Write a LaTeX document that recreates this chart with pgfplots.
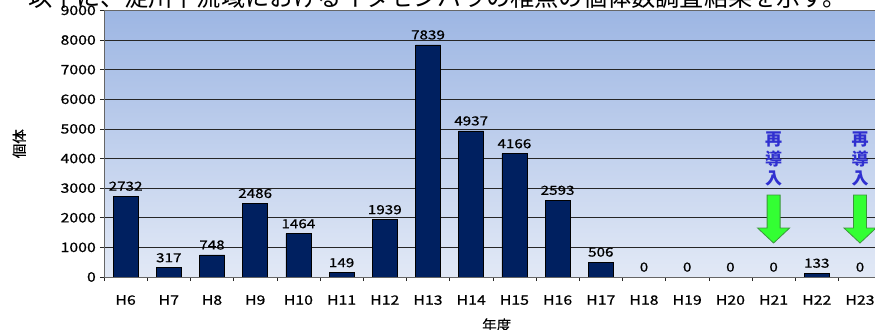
\documentclass[border=0pt]{standalone}
\usepackage{fontspec}
\setmainfont{Noto Sans CJK JP}
\newfontfamily\numfont[FakeStretch=1.22, FakeBold=0.6]{Noto Sans CJK JP}
\newfontfamily\lblfont[FakeBold=0.4]{Noto Sans CJK JP}
\usepackage{pgfplots}
\pgfplotsset{compat=1.18}
\definecolor{bgtop}{RGB}{157,182,227}
\definecolor{bgbot}{RGB}{226,233,246}
\definecolor{barnavy}{RGB}{0,32,96}
\definecolor{annblue}{RGB}{48,48,208}
\definecolor{arrgreen}{RGB}{51,255,51}
\definecolor{arredge}{RGB}{60,150,60}
\begin{document}
\begin{tikzpicture}
\useasboundingbox (0,0) rectangle (875bp,330bp);
\begin{scope}
\clip (0,0) rectangle (875bp,330bp);
\node[anchor=base west, inner sep=0pt, font=\fontsize{24.2bp}{26bp}\selectfont] at (28bp,323bp) {以下に、淀川下流域におけるイタセンパラの稚魚の個体数調査結果を示す。};
\end{scope}
\begin{axis}[
  at={(104bp,53bp)}, anchor=south west,
  scale only axis, width=777.6bp, height=266.6bp,
  xmin=-0.5, xmax=17.5, ymin=0, ymax=9000,
  ytick={0,1000,...,9000},
  xtick={0,...,17},
  xticklabels={H6,H7,H8,H9,H10,H11,H12,H13,H14,H15,H16,H17,H18,H19,H20,H21,H22,H23},
  minor xtick={-0.5,0.5,...,17.5},
  major x tick style={draw=none},
  minor tick length=4bp,
  major tick length=4bp,
  xtick pos=bottom, ytick pos=left,
  ytick align=outside, xtick align=inside,
  ymajorgrids, major grid style={black!85, line width=0.6bp},
  axis line style={black!60, line width=0.6bp},
  tick style={black!85, line width=0.6bp},
  axis background/.style={top color=bgtop, bottom color=bgbot},
  /pgf/number format/assume math mode=true,
  /pgf/number format/set thousands separator={},
  yticklabel style={font=\numfont\fontsize{13bp}{14bp}\selectfont, anchor=east, inner sep=0pt, xshift=-4bp},
  xticklabel style={font=\numfont\fontsize{13bp}{14bp}\selectfont, anchor=north, inner sep=0pt, yshift=-14bp},
  xlabel={年度},
  xlabel style={at={(axis description cs:0.505,0)}, anchor=center, yshift=-48bp, font=\lblfont\fontsize{14.5bp}{16bp}\selectfont},
  ylabel={個体},
  ylabel style={at={(axis description cs:-0.109,0.5)}, anchor=center, font=\lblfont\fontsize{14.5bp}{16bp}\selectfont},
  ybar, bar width=25bp,
  nodes near coords,
  every node near coord/.append style={font=\numfont\fontsize{12.5bp}{14bp}\selectfont, anchor=south, inner sep=0pt, yshift=5bp},
]
\addplot[fill=barnavy, draw=black, line width=0.5bp] coordinates {
(0,2732) (1,317) (2,748) (3,2486) (4,1464) (5,149) (6,1939) (7,7839) (8,4937)
(9,4166) (10,2593) (11,506) (12,0) (13,0) (14,0) (15,0) (16,133) (17,0)};
\draw[shift={(axis cs:15,2767)}, fill=arrgreen, draw=arredge, line width=0.8bp] (-6.5bp,0bp) -- (6.5bp,0bp) -- (6.5bp,-33bp) -- (16bp,-33bp) -- (0bp,-48bp) -- (-16bp,-33bp) -- (-6.5bp,-33bp) -- cycle;
\node[align=center, inner sep=0pt, text=annblue, font=\bfseries\fontsize{17bp}{19.5bp}\selectfont] at (axis cs:15,3983) {再\\導\\入};
\draw[shift={(axis cs:17,2767)}, fill=arrgreen, draw=arredge, line width=0.8bp] (-6.5bp,0bp) -- (6.5bp,0bp) -- (6.5bp,-33bp) -- (16bp,-33bp) -- (0bp,-48bp) -- (-16bp,-33bp) -- (-6.5bp,-33bp) -- cycle;
\node[align=center, inner sep=0pt, text=annblue, font=\bfseries\fontsize{17bp}{19.5bp}\selectfont] at (axis cs:17,3983) {再\\導\\入};
\end{axis}
\end{tikzpicture}
\end{document}
